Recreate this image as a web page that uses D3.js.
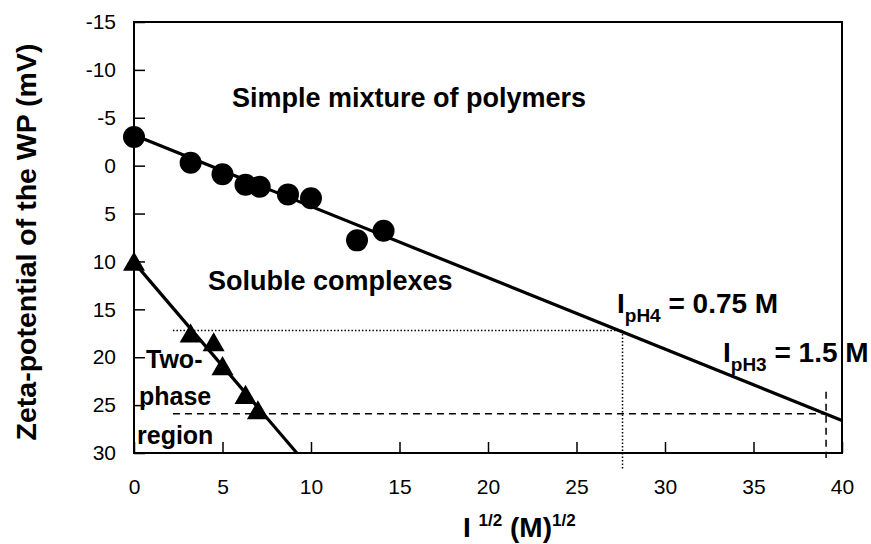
<!DOCTYPE html>
<html>
<head>
<meta charset="utf-8">
<script src="https://cdn.jsdelivr.net/npm/d3@7"></script>
<style>
  body { margin: 0; background: #fff; }
  svg { font-family: "Liberation Sans", Arial, sans-serif; }
  .tick text { font-size: 21px; fill: #000; }
  .tick line { stroke: #000; stroke-width: 1.5; }
  .note { font-weight: bold; fill: #000; }
</style>
</head>
<body>
<div id="chart"></div>
<script>
// zeta potential of WP vs square root of ionic strength
const circleX = [0, 3.2, 5.0, 6.3, 7.1, 8.7, 10.0, 12.6, 14.1];
const circleY = [-3.0, -0.3, 0.9, 2.0, 2.2, 3.0, 3.4, 7.8, 6.8];

const triangleX = [0, 3.2, 4.5, 5.0, 6.3, 7.0];
const triangleY = [10.1, 17.6, 18.5, 21.0, 24.0, 25.6];

// fitted lines (endpoints)
const circleFitX = [0, 40];
const circleFitY = [-3.2, 26.6];
const triangleFitX = [0, 9.2];
const triangleFitY = [10.1, 30];

// critical ionic strength guides
const pH4X = 27.6, pH4Y = 17.2;
const pH3X = 39.1, pH3Y = 25.9;
const guideStartX = 2.2;

const xTicks = [0, 5, 10, 15, 20, 25, 30, 35, 40];
const yTicks = [-15, -10, -5, 0, 5, 10, 15, 20, 25, 30];

const config = {
  width: 871,
  height: 544,
  margin: { top: 22, right: 29, bottom: 91, left: 134 }
};

const innerW = config.width - config.margin.left - config.margin.right;
const innerH = config.height - config.margin.top - config.margin.bottom;

const svg = d3.select("#chart")
  .append("svg")
  .attr("width", config.width)
  .attr("height", config.height);

const chart = svg.append("g")
  .attr("transform", `translate(${config.margin.left},${config.margin.top})`);

const x = d3.scaleLinear().domain([0, 40]).range([0, innerW]);
const y = d3.scaleLinear().domain([-15, 30]).range([0, innerH]);

// axes, ticks pointing inward, plain hyphen minus
chart.append("g")
  .attr("transform", `translate(0,${innerH})`)
  .call(d3.axisBottom(x).tickValues(xTicks).tickFormat(d => String(d))
    .tickSizeInner(-11).tickSizeOuter(0).tickPadding(26))
  .call(g => g.select(".domain").remove());

chart.append("g")
  .call(d3.axisLeft(y).tickValues(yTicks).tickFormat(d => String(d))
    .tickSizeInner(-11).tickSizeOuter(0).tickPadding(18))
  .call(g => g.select(".domain").remove());

// guide lines
chart.append("line")
  .attr("x1", x(guideStartX)).attr("x2", x(pH4X))
  .attr("y1", y(pH4Y)).attr("y2", y(pH4Y))
  .attr("stroke", "#000").attr("stroke-width", 1.5).attr("stroke-dasharray", "1.5,2");
chart.append("line")
  .attr("x1", x(pH4X)).attr("x2", x(pH4X))
  .attr("y1", y(pH4Y)).attr("y2", innerH + 17)
  .attr("stroke", "#000").attr("stroke-width", 1.5).attr("stroke-dasharray", "1.5,2");

chart.append("line")
  .attr("x1", x(guideStartX)).attr("x2", x(pH3X))
  .attr("y1", y(pH3Y)).attr("y2", y(pH3Y))
  .attr("stroke", "#000").attr("stroke-width", 1.5).attr("stroke-dasharray", "7,5");
chart.append("line")
  .attr("x1", x(pH3X)).attr("x2", x(pH3X))
  .attr("y1", y(23.6)).attr("y2", innerH + 5)
  .attr("stroke", "#000").attr("stroke-width", 1.5).attr("stroke-dasharray", "7,5");

// frame
chart.append("rect")
  .attr("width", innerW).attr("height", innerH)
  .attr("fill", "none").attr("stroke", "#000").attr("stroke-width", 2);

// fitted lines
const line = d3.line().x(d => x(d[0])).y(d => y(d[1]));

chart.append("path")
  .datum(d3.zip(circleFitX, circleFitY))
  .attr("d", line)
  .attr("fill", "none").attr("stroke", "#000").attr("stroke-width", 3.2);

chart.append("path")
  .datum(d3.zip(triangleFitX, triangleFitY))
  .attr("d", line)
  .attr("fill", "none").attr("stroke", "#000").attr("stroke-width", 3.2);

// markers
chart.selectAll("circle.pt")
  .data(d3.zip(circleX, circleY))
  .join("circle")
  .attr("class", "pt")
  .attr("cx", d => x(d[0]))
  .attr("cy", d => y(d[1]))
  .attr("r", 11)
  .attr("fill", "#000");

chart.selectAll("path.tri")
  .data(d3.zip(triangleX, triangleY))
  .join("path")
  .attr("class", "tri")
  .attr("d", d3.symbol(d3.symbolTriangle, 210))
  .attr("transform", d => `translate(${x(d[0])},${y(d[1]) + 2})`)
  .attr("fill", "#000");

// region labels
svg.append("text").attr("class", "note")
  .attr("x", 232).attr("y", 107).attr("font-size", 27)
  .text("Simple mixture of polymers");

svg.append("text").attr("class", "note")
  .attr("x", 208).attr("y", 290).attr("font-size", 27)
  .text("Soluble complexes");

const twoPhase = [["Two-", 146, 368], ["phase", 139, 405], ["region", 137, 444]];
svg.selectAll("text.phase")
  .data(twoPhase)
  .join("text")
  .attr("class", "note phase")
  .attr("x", d => d[1]).attr("y", d => d[2])
  .attr("font-size", 25)
  .text(d => d[0]);

function ionLabel(xPos, yPos, sub, rest) {
  const t = svg.append("text").attr("class", "note")
    .attr("x", xPos).attr("y", yPos).attr("font-size", 28);
  t.append("tspan").text("I");
  t.append("tspan").attr("font-size", 19).attr("dy", 9).text(sub);
  t.append("tspan").attr("dy", -9).text(rest);
}
ionLabel(617, 313, "pH4", " = 0.75 M");
ionLabel(723, 362, "pH3", " = 1.5 M");

// axis titles
const xt = svg.append("text").attr("class", "note")
  .attr("x", 463).attr("y", 537).attr("font-size", 28);
xt.append("tspan").text("I ");
xt.append("tspan").attr("font-size", 17).attr("dy", -11).text("1/2");
xt.append("tspan").attr("dy", 11).text(" (M)");
xt.append("tspan").attr("font-size", 17).attr("dy", -11).text("1/2");

svg.append("text").attr("class", "note")
  .attr("transform", "translate(36,242) rotate(-90)")
  .attr("text-anchor", "middle")
  .attr("font-size", 28.5)
  .text("Zeta-potential of the WP (mV)");
</script>
</body>
</html>
